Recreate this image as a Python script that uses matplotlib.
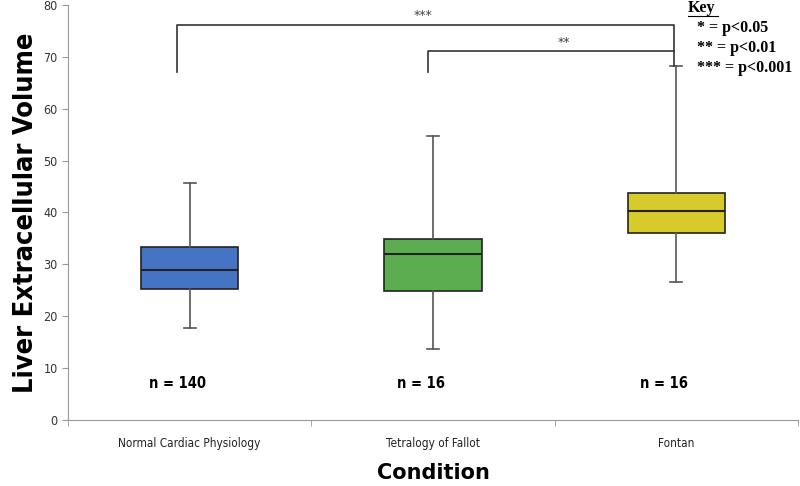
import matplotlib.pyplot as plt
from matplotlib.ticker import FixedLocator

conditions = ['Normal Cardiac Physiology', 'Tetralogy of Fallot', 'Fontan']
n_labels = ['n = 140', 'n = 16', 'n = 16']
whislo = [17.7, 13.7, 26.6]
q1 = [25.3, 24.9, 36.0]
med = [28.9, 31.9, 40.3]
q3 = [33.3, 34.9, 43.8]
whishi = [45.7, 54.7, 68.2]
colors = ['#4674c4', '#5cad50', '#d6ca2c']

stats = []
for i in range(3):
    stats.append({'whislo': whislo[i], 'q1': q1[i], 'med': med[i],
                  'q3': q3[i], 'whishi': whishi[i], 'fliers': []})

cond = dict(family='DejaVu Sans', stretch='condensed')

fig = plt.figure(figsize=(8, 4.86), dpi=100)
ax = fig.add_axes([0.085, 0.136, 0.9125, 0.854])

pos = [1, 2, 3]
bp = ax.bxp(stats, positions=pos, widths=0.4, patch_artist=True,
            showfliers=False, capwidths=0.05,
            boxprops=dict(edgecolor='#222222', linewidth=1.2),
            medianprops=dict(color='#222222', linewidth=1.5),
            whiskerprops=dict(color='#555555', linewidth=1.2),
            capprops=dict(color='#555555', linewidth=1.2))
for patch, c in zip(bp['boxes'], colors):
    patch.set_facecolor(c)

ax.set_xlim(0.5, 3.5)
ax.set_ylim(0, 80)
ax.set_yticks(range(0, 81, 10))
ax.set_xticks(pos)
ax.set_xticklabels(conditions, fontsize=8.5, color='#222222', **cond)
for lab in ax.get_yticklabels():
    lab.set_fontstretch('condensed')
ax.xaxis.set_minor_locator(FixedLocator([0.5, 1.5, 2.5, 3.5]))
ax.tick_params(axis='x', which='major', length=0, pad=12)
ax.tick_params(axis='x', which='minor', length=4, color='#999999')
ax.tick_params(axis='y', length=4, color='#999999', labelsize=9, labelcolor='#333333')
for s in ['top', 'right']:
    ax.spines[s].set_visible(False)
for s in ['left', 'bottom']:
    ax.spines[s].set_color('#999999')

ax.set_xlabel('Condition', fontsize=15, fontweight='bold', labelpad=10)
ax.set_ylabel('Liver Extracellular Volume', fontsize=19.5, fontweight='bold', labelpad=3, **cond)

for p, t in zip(pos, n_labels):
    ax.text(p - 0.05, 7.1, t, ha='center', va='center', fontsize=10.5, fontweight='bold', **cond)

# significance brackets
ax.plot([0.947, 0.947, 2.99, 2.99], [67.0, 76.1, 76.1, 68.2], color='#333333', lw=1.2)
ax.plot([1.98, 1.98, 2.99], [67.0, 71.1, 71.1], color='#333333', lw=1.2)
ax.text(1.96, 77.9, '***', ha='center', va='center', fontsize=9, color='#444444')
ax.text(2.54, 72.7, '**', ha='center', va='center', fontsize=9, color='#444444')

# key
kx = 688 / 800
fig.text(kx, 1 - 8 / 486, 'Key', fontsize=11.5, fontweight='bold', family='Liberation Serif',
         va='center', ha='left')
fig.add_artist(plt.Line2D([kx, kx + 30 / 800], [1 - 16 / 486, 1 - 16 / 486], color='black', lw=0.8))
for i, t in enumerate(['* = p<0.05', '** = p<0.01', '*** = p<0.001']):
    fig.text(kx + 9 / 800, 1 - (28 + 20 * i) / 486, t, fontsize=11.5, fontweight='bold',
             family='Liberation Serif', va='center', ha='left')

fig.savefig('out.png')
